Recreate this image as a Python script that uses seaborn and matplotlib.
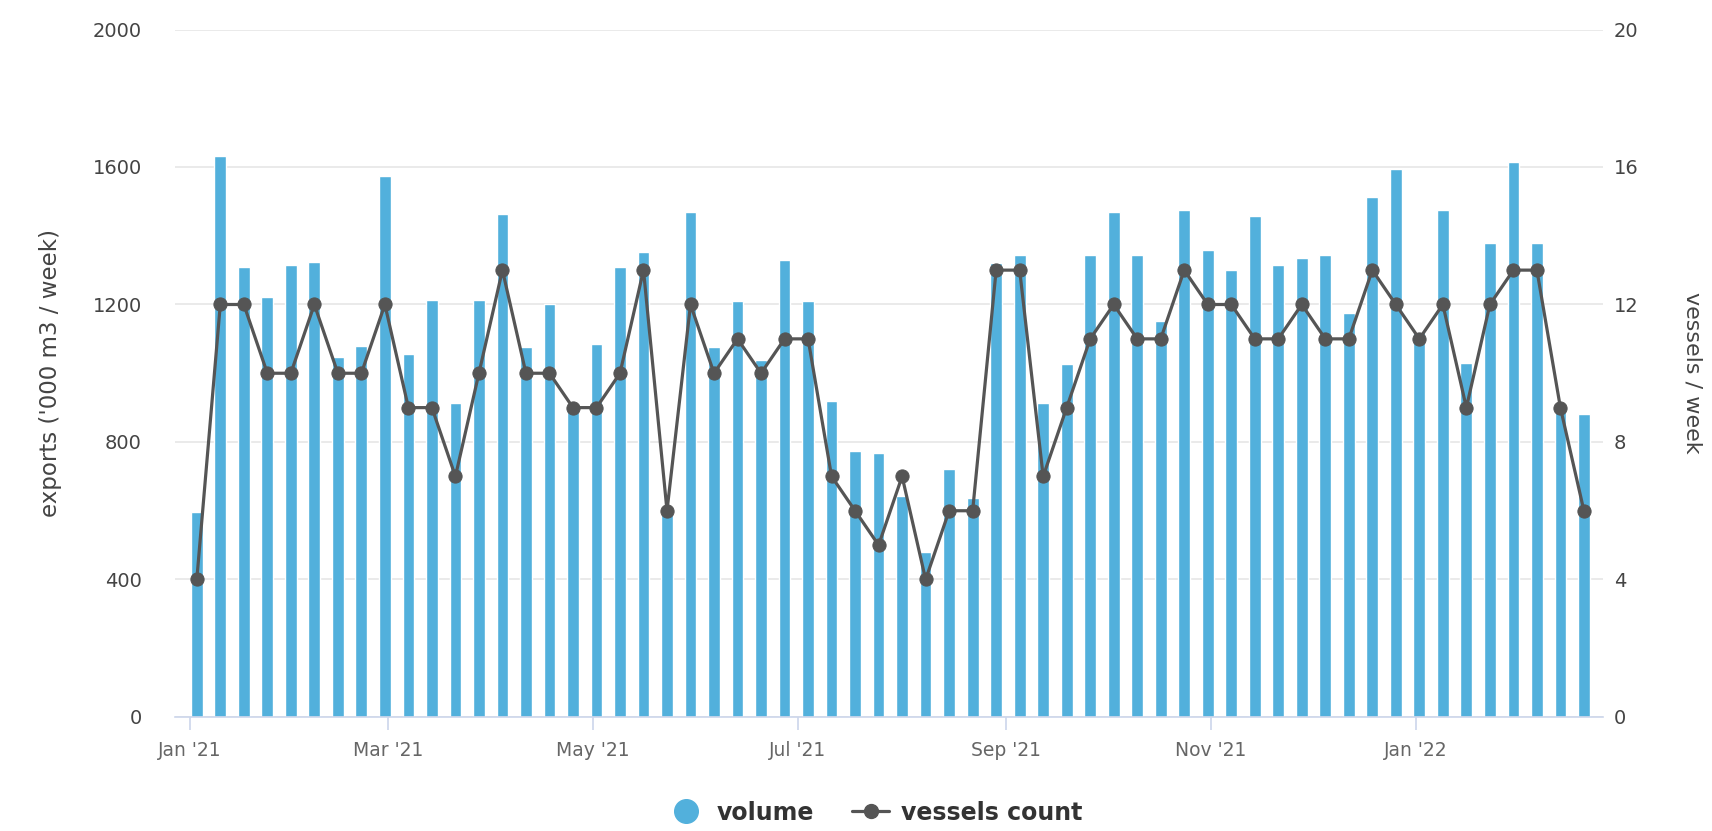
import matplotlib
matplotlib.use("Agg")
import matplotlib.dates as mdates
import matplotlib.pyplot as plt
from matplotlib.lines import Line2D
import numpy as np
import pandas as pd
import seaborn as sns

# weekly data, weeks starting Sunday 3 Jan 2021
WEEK_START = "2021-01-03"
volume = [596, 1633, 1310, 1223, 1316, 1323, 1048, 1080, 1575, 1056,
          1214, 913, 1214, 1463, 1075, 1201, 900, 1086, 1310, 1354,
          610, 1469, 1075, 1210, 1039, 1329, 1210, 919, 774, 769,
          643, 479, 722, 638, 1321, 1343, 913, 1026, 1343, 1469,
          1343, 1152, 1474, 1359, 1301, 1456, 1316, 1334, 1343, 1176,
          1513, 1595, 1119, 1474, 1031, 1378, 1614, 1378, 910, 881]
vessels = [4, 12, 12, 10, 10, 12, 10, 10, 12, 9,
           9, 7, 10, 13, 10, 10, 9, 9, 10, 13,
           6, 12, 10, 11, 10, 11, 11, 7, 6, 5,
           7, 4, 6, 6, 13, 13, 7, 9, 11, 12,
           11, 11, 13, 12, 12, 11, 11, 12, 11, 11,
           13, 12, 11, 12, 9, 12, 13, 13, 9, 6]
tick_dates = ["2021-01-01", "2021-03-01", "2021-05-01", "2021-07-01",
              "2021-09-01", "2021-11-01", "2022-01-01"]
tick_labels = ["Jan '21", "Mar '21", "May '21", "Jul '21",
               "Sep '21", "Nov '21", "Jan '22"]

BLUE = "#52b0dc"
GREY = "#555555"

weeks = pd.date_range(WEEK_START, periods=len(volume), freq="7D")
df = pd.DataFrame({"x": mdates.date2num(weeks), "volume": volume, "vessels": vessels})

sns.set_style("white")
plt.rcParams["font.family"] = ["DejaVu Sans"]

fig = plt.figure(figsize=(17.12, 8.31), dpi=100)
ax = fig.add_axes([0.1022, 0.1372, 0.8341, 0.8273])

sns.barplot(data=df, x="x", y="volume", native_scale=True, width=0.5,
            color=BLUE, saturation=1, ax=ax, zorder=2)

ax2 = ax.twinx()
sns.lineplot(data=df, x="x", y="vessels", ax=ax2, color=GREY, linewidth=2.3,
             marker="o", markersize=9.5, markeredgecolor=GREY, zorder=3)

# axes ranges
x0 = mdates.date2num(pd.Timestamp("2020-12-27 12:00"))
x1 = mdates.date2num(pd.Timestamp("2022-02-25 16:00"))
ax.set_xlim(x0, x1)
ax.set_ylim(0, 2000)
ax2.set_ylim(0, 20)
ax.set_yticks(np.arange(0, 2001, 400))
ax2.set_yticks(np.arange(0, 21, 4))
ax.set_xticks(mdates.date2num(pd.to_datetime(tick_dates)))
ax.set_xticklabels(tick_labels)

# grid & spines
ax.set_axisbelow(True)
ax.yaxis.grid(True, color="#e6e6e6", linewidth=1.2)
ax.xaxis.grid(False)
ax2.grid(False)
for a in (ax, ax2):
    for s in ("top", "left", "right"):
        a.spines[s].set_visible(False)
ax.spines["bottom"].set_color("#ccd6eb")
ax.spines["bottom"].set_linewidth(1.2)
ax2.spines["bottom"].set_visible(False)

ax.tick_params(axis="x", colors="#ccd6eb", length=9, width=1.2, pad=8,
               labelcolor="#666666", labelsize=13.5, bottom=True)
ax.tick_params(axis="y", length=0, pad=24, labelcolor="#444444", labelsize=14)
ax2.tick_params(axis="y", length=0, pad=8, labelcolor="#444444", labelsize=14)

ax.set_xlabel("")
ax.set_ylabel("exports ('000 m3 / week)", fontsize=16.5, color="#444444")
ax.yaxis.set_label_coords(-0.079, 0.5)
ax2.set_xlabel("")
ax2.set_ylabel("vessels / week", fontsize=16, color="#444444", rotation=270)
ax2.yaxis.set_label_coords(1.07, 0.5)

handles = [
    Line2D([], [], linestyle="none", marker="o", markersize=17,
           color=BLUE, markeredgecolor=BLUE),
    Line2D([], [], color=GREY, linewidth=2.3, marker="o", markersize=10),
]
fig.legend(handles, ["volume", "vessels count"], loc="center",
           bbox_to_anchor=(0.511, 0.022), ncol=2, frameon=False,
           prop={"size": 17, "weight": "bold"}, labelcolor="#333333",
           handlelength=1.6, columnspacing=1.6, handletextpad=0.5)

fig.savefig("out.png", dpi=100)
plt.close(fig)
